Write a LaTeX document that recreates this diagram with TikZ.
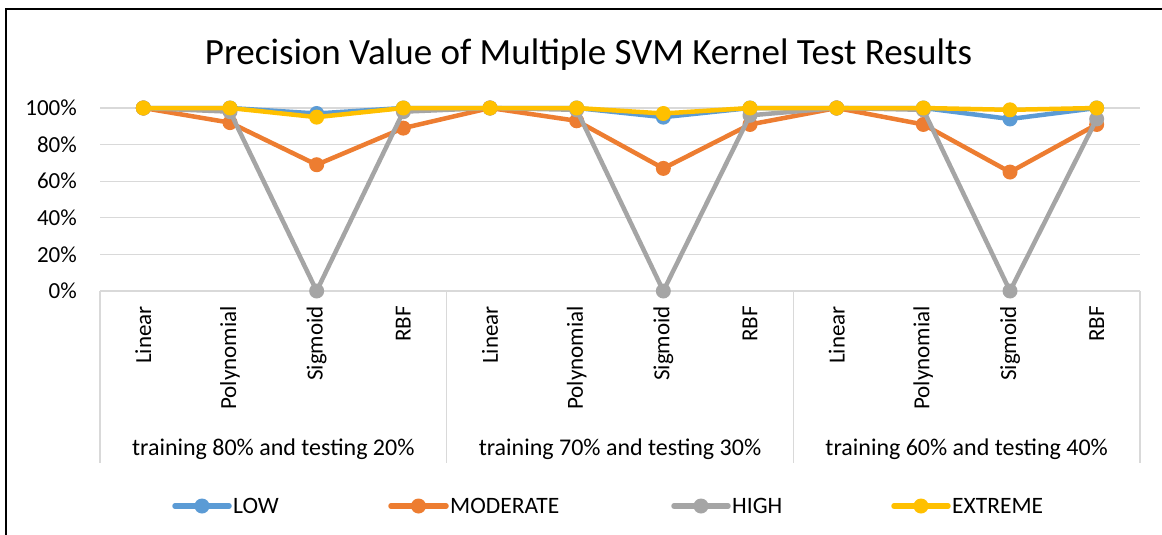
\documentclass[tikz,border=0pt]{standalone}
\usepackage{fontspec}
\setmainfont{Carlito}
\definecolor{lowc}{HTML}{5B9BD5}
\definecolor{modc}{HTML}{ED7D31}
\definecolor{highc}{HTML}{A5A5A5}
\definecolor{extc}{HTML}{FFC000}
\definecolor{gridc}{HTML}{D9D9D9}
\newcommand\drawseries[3]{%
  \foreach \v [count=\i] in {#3} {\coordinate (#1\i) at ({100+86.667*(\i-0.5)},{291-1.83*\v});}
  \draw[ser,#2] (#11) \foreach \j in {2,...,12}{ -- (#1\j)};
  \foreach \j in {1,...,12}{\node[mk,fill=#2] (#1m\j) at (#1\j) {};}
}
\newcommand\legentry[5]{%
  \coordinate (#1a) at (#2,506);
  \coordinate (#1b) at (#3,506);
  \draw[legline,#4] (#1a) -- (#1b);
  \node[mk,fill=#4] (#1m) at ($(#1a)!0.5!(#1b)$) {};
  \node[legtext,anchor=base west] (#1t) at ([xshift=4pt,yshift=-7pt]#1b) {#5};
}
\usetikzlibrary{calc}
\begin{document}
\begin{tikzpicture}[x=1pt,y=-1pt,
  grid/.style={draw=gridc, line width=1.3pt},
  ser/.style={line width=4.5pt, line join=round, line cap=round},
  mk/.style={circle, inner sep=0pt, minimum size=15pt, draw=none},
  legline/.style={line width=5.5pt, line cap=round},
  axlbl/.style={font=\fontsize{23}{23}\selectfont, inner sep=0pt, text=black},
  grplbl/.style={font=\fontsize{24}{24}\selectfont, inner sep=0pt, text=black},
  legtext/.style={font=\fontsize{23.5}{23.5}\selectfont, inner sep=0pt, text=black},
  titlestyle/.style={font=\fontsize{37}{37}\selectfont, inner sep=0pt, text=black}]
\useasboundingbox (0,0) rectangle (1162,535);
\fill[white] (0,0) rectangle (1162,535);
% border
\draw[line width=2.2pt] (6,535) -- (6,9) -- (1162,9);
% title
\node[titlestyle,anchor=base] (title) at (588.5,64) {Precision Value of Multiple SVM Kernel Test Results};
% gridlines and y labels
\foreach \v in {20,40,60,80,100}{\draw[grid] (100,{291-1.83*\v}) -- (1140,{291-1.83*\v});}
\foreach \v in {0,20,40,60,80,100}{\node[axlbl,anchor=east] (y\v) at (77,{291-1.83*\v}) {\v\%};}
% category axis
\draw[grid] (100,291) -- (1140,291);
\foreach \xx in {100,446.7,793.3,1140}{\draw[grid] (\xx,291) -- (\xx,463);}
\foreach \g in {0,1,2}{
  \foreach \c/\t [count=\k] in {0/Linear,1/Polynomial,2/Sigmoid,3/RBF}{
    \node[axlbl,rotate=90,anchor=east] (cat\g\k) at ({100+346.667*\g+86.667*(\c+0.5)},306) {\t};
  }
}
\node[grplbl,anchor=base] (g1) at (273.3,455) {training 80\% and testing 20\%};
\node[grplbl,anchor=base] (g2) at (620,455) {training 70\% and testing 30\%};
\node[grplbl,anchor=base] (g3) at (966.7,455) {training 60\% and testing 40\%};
% series
\drawseries{L}{lowc}{100,100,97,100,100,100,95,100,100,100,94,100}
\drawseries{M}{modc}{100,92,69,89,100,93,67,91,100,91,65,91}
\drawseries{H}{highc}{100,98,0,98,100,99,0,96,100,99,0,94}
\drawseries{E}{extc}{100,100,95,100,100,100,97,100,100,100,99,100}
% legend
\legentry{lg1}{175}{229}{lowc}{LOW}
\legentry{lg2}{391}{446}{modc}{MODERATE}
\legentry{lg3}{674}{728}{highc}{HIGH}
\legentry{lg4}{894}{948}{extc}{EXTREME}
\end{tikzpicture}
\end{document}
